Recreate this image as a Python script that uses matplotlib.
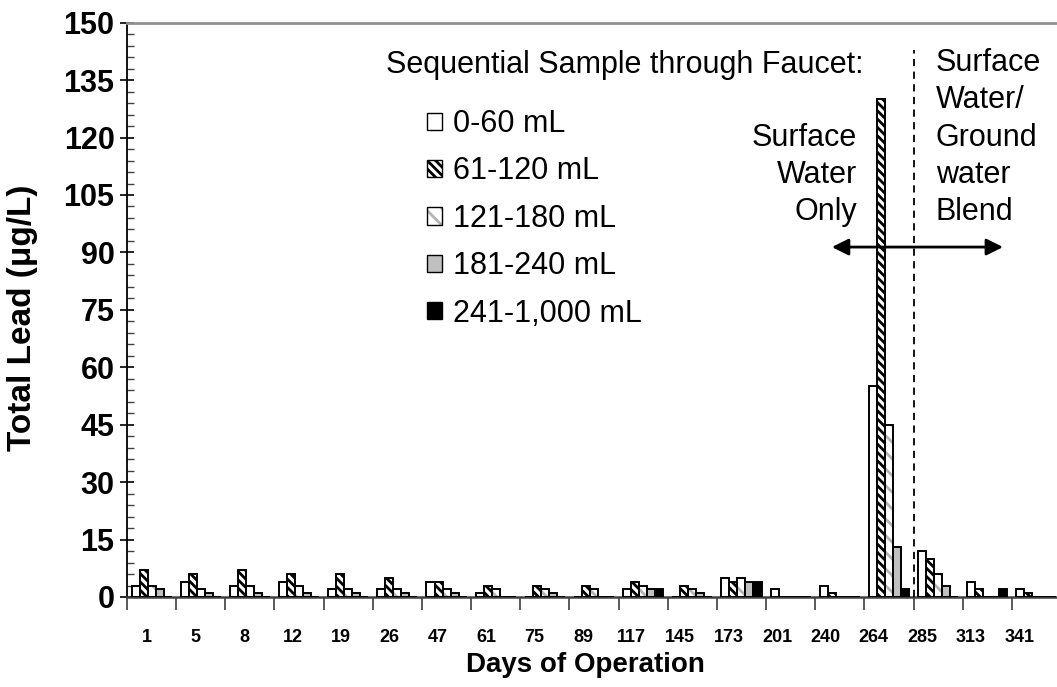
import numpy as np
import matplotlib
matplotlib.use("Agg")
import matplotlib.pyplot as plt
from matplotlib.patches import Patch
from matplotlib.legend_handler import HandlerTuple

plt.rcParams['font.family'] = ['Liberation Sans', 'DejaVu Sans']
plt.rcParams['hatch.linewidth'] = 2.0

# data (ug/L)
days = ["1", "5", "8", "12", "19", "26", "47", "61", "75", "89", "117",
        "145", "173", "201", "240", "264", "285", "313", "341"]
lead_0_60 = [3, 4, 3, 4, 2, 2, 4, 1, 0, 0, 2, 0, 5, 2, 3, 55, 12, 4, 2]
lead_61_120 = [7, 6, 7, 6, 6, 5, 4, 3, 3, 3, 4, 3, 4, 0, 1, 130, 10, 2, 1]
lead_121_180 = [3, 2, 3, 3, 2, 2, 2, 2, 2, 2, 3, 2, 5, 0, 0, 45, 6, 0, 0]
lead_181_240 = [2, 1, 1, 1, 1, 1, 1, 0, 1, 0, 2, 1, 4, 0, 0, 13, 3, 0, 0]
lead_241_1000 = [0, 0, 0, 0, 0, 0, 0, 0, 0, 0, 2, 0, 4, 0, 0, 2, 0, 2, 0]
series_labels = ["0-60 mL", "61-120 mL", "121-180 mL", "181-240 mL", "241-1,000 mL"]

series = [lead_0_60, lead_61_120, lead_121_180, lead_181_240, lead_241_1000]

fig = plt.figure(figsize=(10.57, 6.87), dpi=100)
ax = fig.add_axes([127 / 1057, 90 / 687, 934 / 1057, 574.3 / 687])

x = np.arange(len(days))
w = 0.163
styles = [
    dict(facecolor="white", hatch=None, hcol=None),
    dict(facecolor="white", hatch="\\\\\\\\", hcol="black"),
    dict(facecolor="white", hatch="\\\\", hcol="#b4b4b4"),
    dict(facecolor="#c0c0c0", hatch=None, hcol=None),
    dict(facecolor="black", hatch=None, hcol=None),
]

handles = []
for i, (vals, st, lab) in enumerate(zip(series, styles, series_labels)):
    xs = x + (i - 2) * w
    if st["hatch"]:
        # hatch drawn in its own colour, black outline on top
        ax.bar(xs, vals, w, facecolor=st["facecolor"], edgecolor=st["hcol"],
               hatch=st["hatch"], linewidth=0, zorder=2)
        ax.bar(xs, vals, w, facecolor="none", edgecolor="black", linewidth=1.4, zorder=3)
        handles.append((Patch(facecolor=st["facecolor"], edgecolor=st["hcol"],
                              hatch=st["hatch"], linewidth=0),
                        Patch(facecolor="none", edgecolor="black", linewidth=1.0)))
    else:
        ax.bar(xs, vals, w, facecolor=st["facecolor"], edgecolor="black",
               linewidth=1.4, zorder=3)
        handles.append(Patch(facecolor=st["facecolor"], edgecolor="black", linewidth=1.0))

ax.set_xlim(-0.5, len(days) - 0.5)
ax.set_ylim(0, 150)

# boundary ticks, labels sit a little left of the group centres (as in the original)
ax.set_xticks(np.arange(-0.5, len(days), 1))
ax.set_xticklabels([])
ax.set_xticks(np.linspace(-0.09, 17.65, len(days)), minor=True)
ax.set_xticklabels(days, minor=True, fontsize=13, fontweight="bold")
ax.tick_params(axis="x", which="major", direction="out", length=9, width=1.2, color="#404040")
ax.tick_params(axis="x", which="minor", length=0, pad=23)

ax.set_yticks(np.arange(0, 151, 15))
ax.set_yticks(np.arange(0, 151, 3), minor=True)
ax.tick_params(axis="y", which="major", direction="inout", length=10, width=1.2,
               labelsize=22, pad=4)
ax.tick_params(axis="y", which="minor", direction="in", length=5, width=1.0, color="#404040")
for t in ax.get_yticklabels():
    t.set_fontweight("bold")

ax.spines["right"].set_visible(False)
ax.spines["top"].set_color("#909090")
ax.spines["top"].set_linewidth(2)
ax.spines["left"].set_linewidth(1.3)
ax.spines["bottom"].set_linewidth(1.8)
ax.spines["bottom"].set_color("#404040")

ax.set_ylabel("Total Lead (μg/L)", fontsize=24, fontweight="bold")
ax.yaxis.set_label_coords(-0.0953, 0.486)
fig.text(585 / 1057, 1 - 665 / 687, "Days of Operation", fontsize=20,
         fontweight="bold", ha="center", va="center")

# annotations
ax.text(4.77, 136.8, "Sequential Sample through Faucet:", fontsize=22, va="baseline")
ax.text(14.35, 98.5, "Surface\nWater\nOnly", fontsize=22, ha="right", va="baseline",
        multialignment="right", linespacing=1.31)
ax.text(15.95, 98.5, "Surface\nWater/\nGround\nwater\nBlend", fontsize=22,
        ha="left", va="baseline", linespacing=1.31)
ax.plot([15.5, 15.5], [0, 142.8], color="black", linestyle=(0, (4, 3)), lw=1.3, zorder=4)
ax.annotate("", xy=(13.84, 91.4), xytext=(17.32, 91.4),
            arrowprops=dict(arrowstyle="<|-|>", color="black", lw=2,
                            mutation_scale=25, shrinkA=0, shrinkB=0), zorder=5)

ax.legend(handles=handles, labels=series_labels, loc="upper left",
          bbox_to_anchor=(427 / 1057, 1 - 109 / 687),
          bbox_transform=fig.transFigure, frameon=False, fontsize=22,
          handler_map={tuple: HandlerTuple(ndivide=1, pad=0)},
          handlelength=0.49, handleheight=0.49, handletextpad=0.36, labelspacing=0.57,
          borderpad=0, borderaxespad=0)

fig.savefig("out.png", dpi=100)
